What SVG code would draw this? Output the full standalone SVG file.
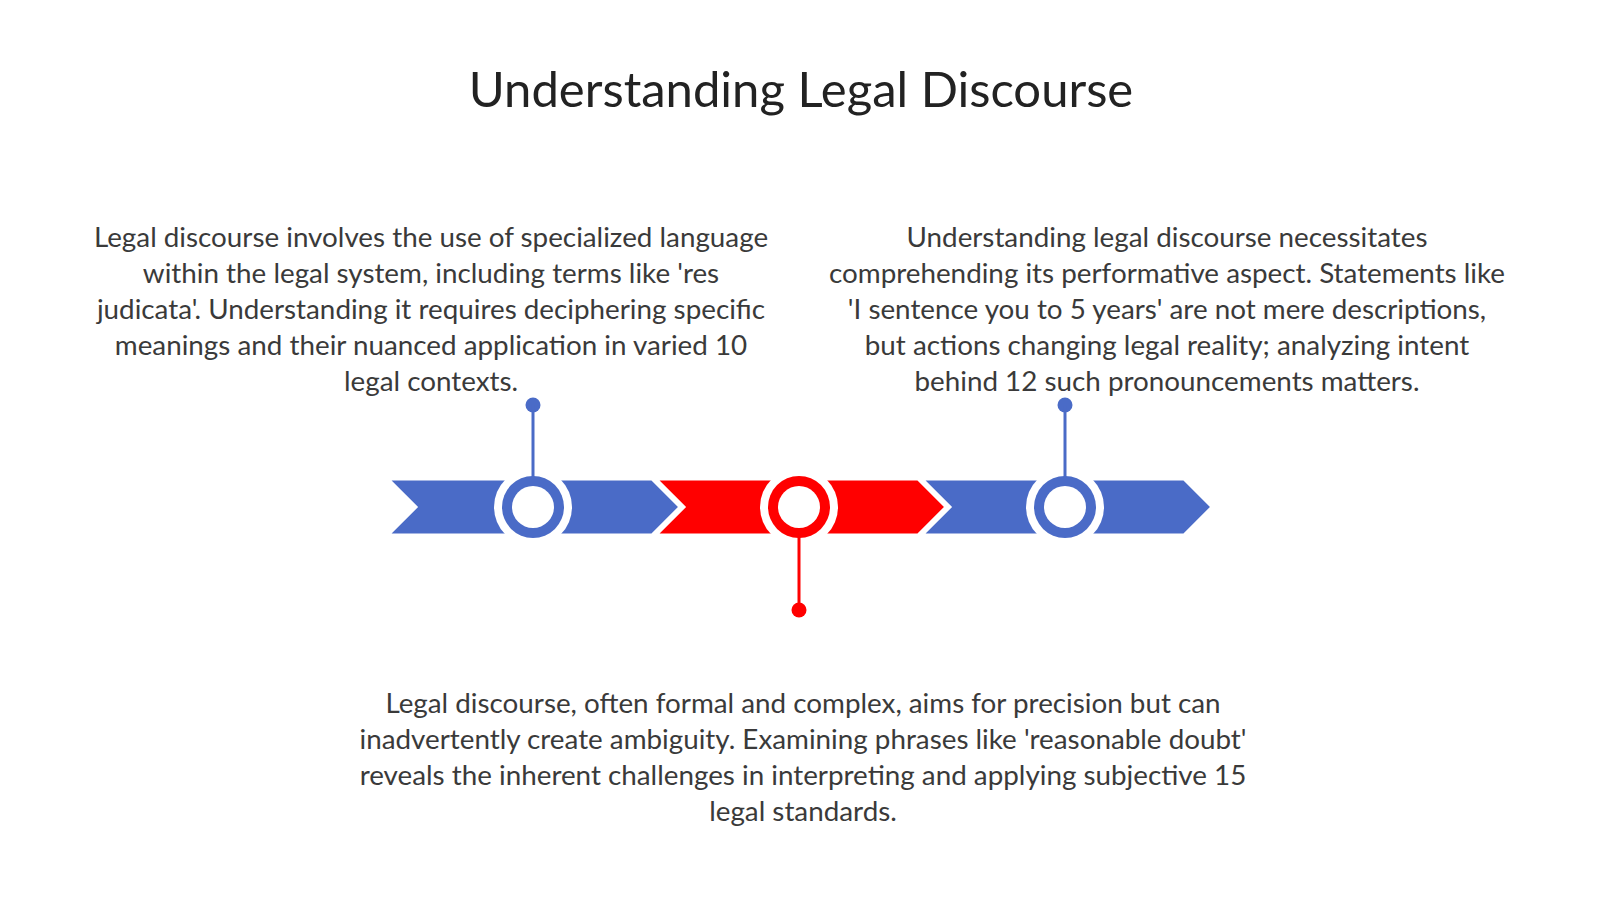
<svg xmlns="http://www.w3.org/2000/svg" width="1600" height="899" viewBox="0 0 1600 899">
<style>
.title{font-family:Lato,"Liberation Sans",sans-serif;font-size:49px;fill:#222;text-anchor:middle}
.body{font-family:Lato,"Liberation Sans",sans-serif;font-size:27.8px;fill:#3a3a3a;text-anchor:middle}
.blue{fill:#4a6bc7}
.red{fill:#ff0000}
.seg{stroke:#fff;stroke-width:3;stroke-linejoin:miter}
.halo{fill:#fff}
.hole{fill:#fff}
.stemb{stroke:#4a6bc7;stroke-width:3}
.stemr{stroke:#ff0000;stroke-width:3}
</style>
<rect width="1600" height="899" fill="#fff"/>
<text class="title" x="801" y="107">Understanding Legal Discourse</text>

<g id="timeline">
<polygon class="seg blue" points="388,479 652,479 680,507 652,535 388,535 416,507"/>
<polygon class="seg red" points="656,479 918,479 946,507 918,535 656,535 684,507"/>
<polygon class="seg blue" points="922,479 1184,479 1212,507 1184,535 922,535 950,507"/>
</g>

<g id="node1">
<circle class="halo" cx="533" cy="507" r="39"/>
<circle class="blue" cx="533" cy="507" r="31"/>
<circle class="hole" cx="533" cy="507" r="21"/>
<circle class="blue" cx="533" cy="405" r="7.5"/>
<text class="body" x="431" y="247">Legal discourse involves the use of specialized language</text>
<text class="body" x="431" y="283">within the legal system, including terms like 'res</text>
<text class="body" x="431" y="319">judicata'. Understanding it requires deciphering specific</text>
<text class="body" x="431" y="355">meanings and their nuanced application in varied 10</text>
<text class="body" x="431" y="391">legal contexts.</text>
</g>

<g id="node2">
<circle class="halo" cx="799" cy="507" r="39"/>
<circle class="red" cx="799" cy="507" r="31"/>
<circle class="hole" cx="799" cy="507" r="21"/>
<circle class="red" cx="799" cy="610" r="7.5"/>
<text class="body" x="803" y="713">Legal discourse, often formal and complex, aims for precision but can</text>
<text class="body" x="803" y="749">inadvertently create ambiguity. Examining phrases like 'reasonable doubt'</text>
<text class="body" x="803" y="785">reveals the inherent challenges in interpreting and applying subjective 15</text>
<text class="body" x="803" y="821">legal standards.</text>
</g>

<g id="node3">
<circle class="halo" cx="1065" cy="507" r="39"/>
<circle class="blue" cx="1065" cy="507" r="31"/>
<circle class="hole" cx="1065" cy="507" r="21"/>
<circle class="blue" cx="1065" cy="405" r="7.5"/>
<text class="body" x="1167" y="247">Understanding legal discourse necessitates</text>
<text class="body" x="1167" y="283">comprehending its performative aspect. Statements like</text>
<text class="body" x="1167" y="319">'I sentence you to 5 years' are not mere descriptions,</text>
<text class="body" x="1167" y="355">but actions changing legal reality; analyzing intent</text>
<text class="body" x="1167" y="391">behind 12 such pronouncements matters.</text>
</g>

<g id="connectors">
<line class="stemb" x1="533" y1="405" x2="533" y2="478"/>
<line class="stemr" x1="799" y1="536" x2="799" y2="610"/>
<line class="stemb" x1="1065" y1="405" x2="1065" y2="478"/>
</g>
</svg>
